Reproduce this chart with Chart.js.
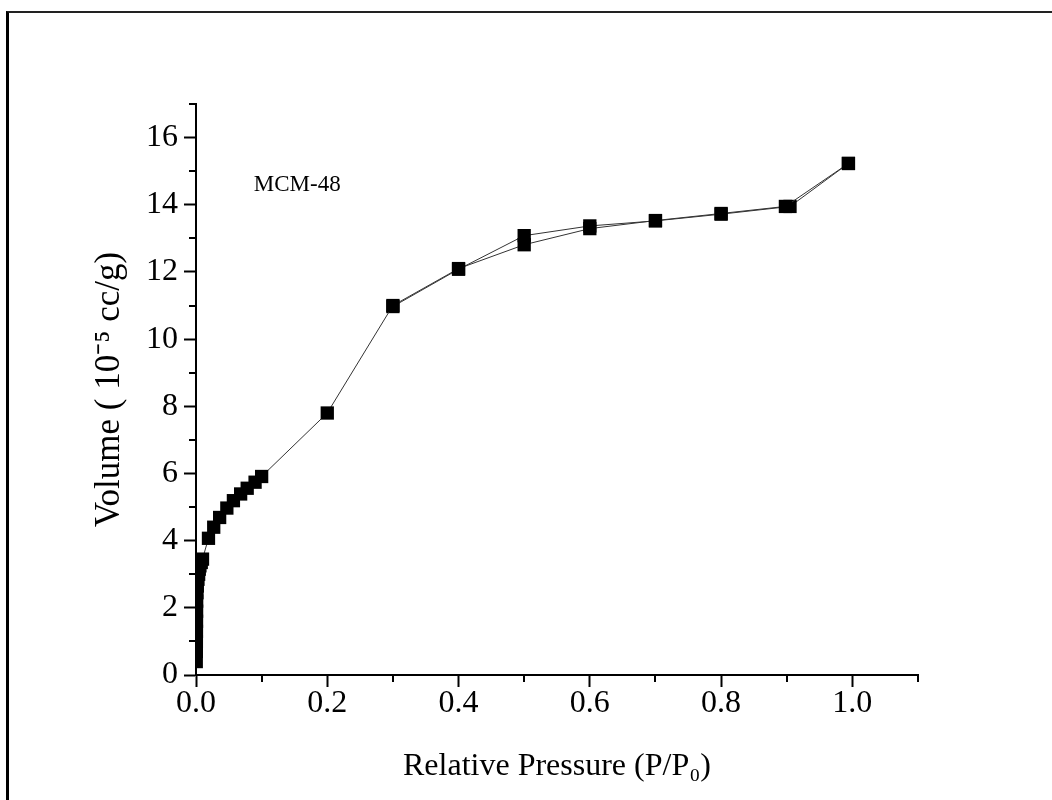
<!DOCTYPE html>
<html>
<head>
<meta charset="utf-8">
<script src="https://cdn.jsdelivr.net/npm/chart.js@4.4.1/dist/chart.umd.min.js"></script>
<style>
  html, body { margin: 0; padding: 0; background: #fff; }
  #wrap { position: relative; width: 1052px; height: 800px; overflow: hidden; }
  #frame { position: absolute; left: 6px; top: 11px; width: 1100px; height: 900px;
           border-left: 3px solid #000; border-top: 2px solid #222; pointer-events: none; }
  canvas { position: absolute; left: 0; top: 0; }
</style>
</head>
<body>
<div id="wrap">
  <canvas id="c" width="1052" height="800"></canvas>
  <div id="frame"></div>
</div>
<script>
// ---- data ----
const adsorptionP = [0.0004, 0.0005, 0.0006, 0.0007, 0.0008, 0.0009, 0.001, 0.0015, 0.002, 0.003, 0.004, 0.005, 0.006, 0.008, 0.0099,
                     0.019, 0.027, 0.036, 0.047, 0.057, 0.068, 0.078, 0.090, 0.100,
                     0.200, 0.300, 0.400, 0.500, 0.600, 0.700, 0.800, 0.898, 0.994];
const adsorptionV = [0.40, 0.70, 1.00, 1.30, 1.60, 1.90, 2.20, 2.45, 2.65, 2.85, 3.00, 3.15, 3.25, 3.35, 3.45,
                     4.07, 4.40, 4.69, 4.97, 5.19, 5.39, 5.56, 5.74, 5.91,
                     7.80, 11.00, 12.10, 12.81, 13.29, 13.53, 13.74, 13.95, 15.23];
const desorptionP = [0.994, 0.905, 0.800, 0.700, 0.600, 0.500, 0.400, 0.300];
const desorptionV = [15.23, 13.95, 13.72, 13.52, 13.37, 13.08, 12.08, 10.97];
const xTickLabels = ['0.0', '0.2', '0.4', '0.6', '0.8', '1.0'];
const yTickLabels = ['0', '2', '4', '6', '8', '10', '12', '14', '16'];
const sampleLabel = 'MCM-48';
const xTitle = 'Relative Pressure (P/P\u2080)';
const yTitle = 'Volume ( 10\u207B\u2075 cc/g)';

const FONT = "'Liberation Serif', 'Times New Roman', serif";

function toPoints(xs, ys) { return xs.map((x, i) => ({x: x, y: ys[i]})); }

const isMajorX = v => Math.round(v * 10) % 2 === 0;
const isMajorY = v => Math.round(v) % 2 === 0;

const minorTicks = {
  id: 'minorTicks',
  afterDraw(chart) {
    const ctx = chart.ctx;
    const xs = chart.scales.x, ys = chart.scales.y;
    const a = chart.chartArea;
    ctx.save();
    ctx.strokeStyle = '#000';
    ctx.lineWidth = 2;
    xs.ticks.forEach(t => {
      if (!isMajorX(t.value)) {
        const px = Math.round(xs.getPixelForValue(t.value));
        ctx.beginPath(); ctx.moveTo(px, a.bottom); ctx.lineTo(px, a.bottom + 7); ctx.stroke();
      }
    });
    ys.ticks.forEach(t => {
      if (!isMajorY(t.value)) {
        const py = Math.round(ys.getPixelForValue(t.value));
        ctx.beginPath(); ctx.moveTo(a.left, py); ctx.lineTo(a.left - 7, py); ctx.stroke();
      }
    });
    // sample annotation
    ctx.fillStyle = '#000';
    ctx.font = '23px ' + FONT;
    ctx.textAlign = 'left';
    ctx.textBaseline = 'middle';
    ctx.fillText(sampleLabel, xs.getPixelForValue(0.088), ys.getPixelForValue(14.6));
    ctx.restore();
  }
};

new Chart(document.getElementById('c'), {
  type: 'scatter',
  data: {
    datasets: [
      { label: 'Adsorption', data: toPoints(adsorptionP, adsorptionV), showLine: true,
        borderColor: '#333', borderWidth: 1, pointStyle: 'rect', pointRadius: 9.4,
        pointBackgroundColor: '#000', pointBorderColor: '#000', pointBorderWidth: 0 },
      { label: 'Desorption', data: toPoints(desorptionP, desorptionV), showLine: true,
        borderColor: '#333', borderWidth: 1, pointStyle: 'rect', pointRadius: 9.4,
        pointBackgroundColor: '#000', pointBorderColor: '#000', pointBorderWidth: 0 }
    ]
  },
  options: {
    responsive: false,
    animation: false,
    events: [],
    layout: { padding: { left: 0, right: 134, top: 104, bottom: 0 } },
    plugins: { legend: { display: false }, tooltip: { enabled: false } },
    scales: {
      x: {
        type: 'linear', min: 0, max: 1.1,
        afterFit: s => { s.height = 125; },
        border: { display: true, color: '#000', width: 2 },
        grid: { display: true, drawOnChartArea: false, drawTicks: true, tickLength: 12, tickWidth: 2,
                tickColor: c => isMajorX(c.tick.value) ? '#000' : 'rgba(0,0,0,0)' },
        ticks: { stepSize: 0.1, autoSkip: false, maxRotation: 0, color: '#000', padding: -3,
                 font: { family: FONT, size: 32 },
                 callback: v => isMajorX(v) ? xTickLabels[Math.round(v * 5)] : '' },
        title: { display: true, text: xTitle, color: '#000', font: { family: FONT, size: 32 },
                 padding: { top: 0, bottom: 14 } }
      },
      y: {
        type: 'linear', min: 0, max: 17,
        afterFit: s => { s.width = 196; },
        border: { display: true, color: '#000', width: 2 },
        grid: { display: true, drawOnChartArea: false, drawTicks: true, tickLength: 12, tickWidth: 2,
                tickColor: c => isMajorY(c.tick.value) ? '#000' : 'rgba(0,0,0,0)' },
        ticks: { stepSize: 1, autoSkip: false, color: '#000', padding: 6,
                 font: { family: FONT, size: 32 },
                 callback: v => isMajorY(v) ? yTickLabels[Math.round(v / 2)] : '' },
        title: { display: true, text: yTitle, color: '#000', font: { family: FONT, size: 35 },
                 padding: { top: 89, bottom: 0 } }
      }
    }
  },
  plugins: [minorTicks]
});
</script>
</body>
</html>
